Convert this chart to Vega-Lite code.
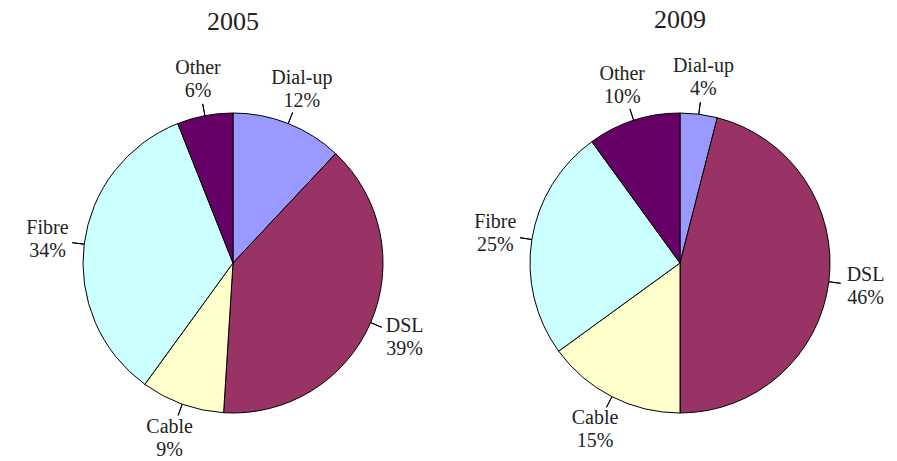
{
  "$schema": "https://vega.github.io/schema/vega-lite/v6.json",
  "background": "white",
  "padding": {"left": 10, "top": 6, "right": 0, "bottom": 0},
  "spacing": 1,
  "config": {
    "view": {"stroke": null},
    "font": "Liberation Serif",
    "text": {"font": "Liberation Serif"},
    "title": {"font": "Liberation Serif", "fontSize": 26, "fontWeight": "normal", "color": "#222222", "offset": 23, "anchor": "middle"}
  },
  "data": {
    "values": [
      {"year": 2005, "category": "Dial-up", "value": 12, "order": 1},
      {"year": 2005, "category": "DSL", "value": 39, "order": 2},
      {"year": 2005, "category": "Cable", "value": 9, "order": 3},
      {"year": 2005, "category": "Fibre", "value": 34, "order": 4},
      {"year": 2005, "category": "Other", "value": 6, "order": 5},
      {"year": 2009, "category": "Dial-up", "value": 4, "order": 1},
      {"year": 2009, "category": "DSL", "value": 46, "order": 2},
      {"year": 2009, "category": "Cable", "value": 15, "order": 3},
      {"year": 2009, "category": "Fibre", "value": 25, "order": 4},
      {"year": 2009, "category": "Other", "value": 10, "order": 5}
    ]
  },
  "hconcat": [
    {
      "title": "2005",
      "width": 446,
      "height": 400,
      "transform": [
        {"filter": "datum.year == 2005"},
        {"window": [{"op": "sum", "field": "value", "as": "cum"}], "sort": [{"field": "order"}], "frame": [null, 0]},
        {"calculate": "datum.cum - datum.value / 2", "as": "mid"},
        {"calculate": "[datum.category, datum.value + '%']", "as": "label"}
      ],
      "layer": [
        {
          "mark": {"type": "arc", "outerRadius": 150, "stroke": "black", "strokeWidth": 1},
          "encoding": {
            "theta": {"field": "value", "type": "quantitative", "stack": true, "scale": {"domain": [0, 100]}},
            "order": {"field": "order"},
            "color": {"field": "category", "type": "nominal", "legend": null,
              "scale": {"domain": ["Dial-up", "DSL", "Cable", "Fibre", "Other"], "range": ["#9999FF", "#993366", "#FFFFCC", "#CCFFFF", "#660066"]}}
          }
        },
        {
          "mark": {"type": "arc", "radius": 162, "radius2": 150, "stroke": "black", "strokeWidth": 1},
          "encoding": {
            "theta": {"field": "mid", "type": "quantitative", "stack": null, "scale": {"domain": [0, 100]}},
            "theta2": {"field": "mid"}
          }
        },
        {
          "mark": {"type": "text", "radius": 187, "fontSize": 20, "lineHeight": 23, "dy": -11.5, "color": "#222222"},
          "encoding": {
            "theta": {"field": "value", "type": "quantitative", "stack": true, "scale": {"domain": [0, 100]}},
            "order": {"field": "order"},
            "text": {"field": "label"}
          }
        }
      ]
    },
    {
      "title": "2009",
      "width": 446,
      "height": 400,
      "transform": [
        {"filter": "datum.year == 2009"},
        {"window": [{"op": "sum", "field": "value", "as": "cum"}], "sort": [{"field": "order"}], "frame": [null, 0]},
        {"calculate": "datum.cum - datum.value / 2", "as": "mid"},
        {"calculate": "[datum.category, datum.value + '%']", "as": "label"}
      ],
      "layer": [
        {
          "mark": {"type": "arc", "outerRadius": 150, "stroke": "black", "strokeWidth": 1},
          "encoding": {
            "theta": {"field": "value", "type": "quantitative", "stack": true, "scale": {"domain": [0, 100]}},
            "order": {"field": "order"},
            "color": {"field": "category", "type": "nominal", "legend": null,
              "scale": {"domain": ["Dial-up", "DSL", "Cable", "Fibre", "Other"], "range": ["#9999FF", "#993366", "#FFFFCC", "#CCFFFF", "#660066"]}}
          }
        },
        {
          "mark": {"type": "arc", "radius": 162, "radius2": 150, "stroke": "black", "strokeWidth": 1},
          "encoding": {
            "theta": {"field": "mid", "type": "quantitative", "stack": null, "scale": {"domain": [0, 100]}},
            "theta2": {"field": "mid"}
          }
        },
        {
          "mark": {"type": "text", "radius": 187, "fontSize": 20, "lineHeight": 23, "dy": -11.5, "color": "#222222"},
          "encoding": {
            "theta": {"field": "value", "type": "quantitative", "stack": true, "scale": {"domain": [0, 100]}},
            "order": {"field": "order"},
            "text": {"field": "label"}
          }
        }
      ]
    }
  ]
}
